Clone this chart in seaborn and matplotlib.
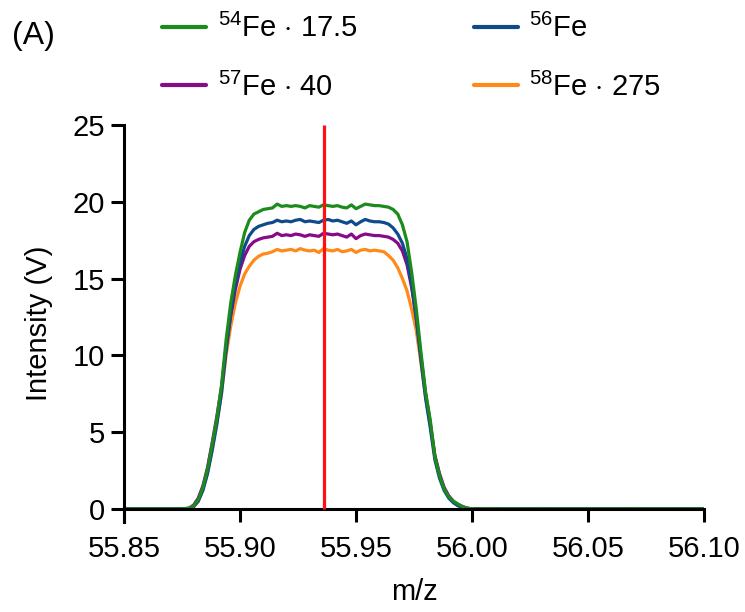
import numpy as np
import pandas as pd
import matplotlib
matplotlib.use("Agg")
import matplotlib.pyplot as plt
from matplotlib.lines import Line2D
import seaborn as sns

sns.set_theme(style="ticks")
plt.rcParams['font.family'] = ['Liberation Sans', 'DejaVu Sans']
plt.rcParams['mathtext.fontset'] = 'custom'
plt.rcParams['mathtext.rm'] = 'Liberation Sans'
plt.rcParams['text.color'] = 'black'
plt.rcParams['axes.labelcolor'] = 'black'

''' m/z sampling points '''
mz = [55.850, 55.860, 55.870, 55.875,
      55.878, 55.880, 55.882, 55.884, 55.886, 55.888, 55.890, 55.892, 55.894, 55.896,
      55.898, 55.900, 55.902, 55.904, 55.906, 55.908, 55.910, 55.912, 55.914, 55.916,
      55.918, 55.920, 55.922, 55.924, 55.926, 55.928, 55.930, 55.932, 55.934, 55.936,
      55.938, 55.940, 55.942, 55.944, 55.946, 55.948, 55.950, 55.952, 55.954, 55.956,
      55.958, 55.960, 55.962, 55.964, 55.966, 55.968, 55.970, 55.972, 55.974, 55.976,
      55.978, 55.980, 55.982, 55.984, 55.986, 55.988, 55.990, 55.992, 55.994, 55.996,
      55.998, 56.000, 56.010, 56.020, 56.030, 56.040, 56.050, 56.060, 56.070, 56.080,
      56.090, 56.100]

''' Intensities (V), scaled '''
fe54 = [0, 0, 0, 0,
        0.05, 0.2, 0.6, 1.4, 2.6, 4.2, 5.9, 8.0, 11.0, 13.4,
        15.2, 16.7, 18.0, 18.8, 19.2, 19.35, 19.5, 19.55, 19.6, 19.85,
        19.7, 19.75, 19.7, 19.75, 19.7, 19.6, 19.75, 19.7, 19.65, 19.8,
        19.75, 19.7, 19.75, 19.65, 19.6, 19.8, 19.55, 19.7, 19.85, 19.8,
        19.75, 19.75, 19.7, 19.65, 19.5, 19.2, 18.5, 17.4, 15.4, 13.0,
        10.2, 7.6, 5.8, 3.4, 2.2, 1.3, 0.8, 0.5, 0.3, 0.15,
        0.05, 0, 0, 0, 0, 0, 0, 0, 0, 0,
        0, 0]
fe56 = [0, 0, 0, 0,
        0.03, 0.15, 0.5, 1.2, 2.3, 3.8, 5.5, 7.5, 10.3, 12.7,
        14.6, 16.0, 17.1, 17.8, 18.2, 18.4, 18.5, 18.6, 18.65, 18.8,
        18.7, 18.75, 18.7, 18.8, 18.85, 18.7, 18.75, 18.7, 18.65, 18.8,
        18.85, 18.75, 18.8, 18.7, 18.6, 18.75, 18.5, 18.7, 18.85, 18.75,
        18.7, 18.7, 18.65, 18.55, 18.3, 17.9, 17.3, 16.3, 14.6, 12.4,
        9.7, 7.2, 5.3, 3.2, 2.0, 1.2, 0.7, 0.4, 0.2, 0.1,
        0.03, 0, 0, 0, 0, 0, 0, 0, 0, 0,
        0, 0]
fe57 = [0, 0, 0, 0,
        0.05, 0.25, 0.7, 1.5, 2.7, 4.3, 6.0, 7.9, 10.5, 12.6,
        14.3, 15.6, 16.5, 17.1, 17.4, 17.55, 17.65, 17.7, 17.75, 17.95,
        17.8, 17.85, 17.8, 17.9, 17.85, 17.75, 17.85, 17.8, 17.75, 17.95,
        17.9, 17.85, 17.9, 17.8, 17.7, 17.9, 17.6, 17.8, 17.9, 17.85,
        17.8, 17.8, 17.75, 17.7, 17.55, 17.3, 16.8, 15.9, 14.4, 12.4,
        9.9, 7.5, 5.6, 3.5, 2.3, 1.4, 0.85, 0.5, 0.3, 0.15,
        0.05, 0, 0, 0, 0, 0, 0, 0, 0, 0,
        0, 0]
fe58 = [0, 0, 0, 0,
        0.03, 0.15, 0.5, 1.3, 2.4, 3.9, 5.6, 7.5, 10.0, 11.9,
        13.4, 14.5, 15.3, 15.8, 16.2, 16.45, 16.6, 16.65, 16.75, 16.9,
        16.8, 16.85, 16.9, 16.8, 16.95, 16.85, 16.8, 16.85, 16.7, 16.95,
        16.85, 16.8, 16.9, 16.75, 16.8, 16.9, 16.7, 16.85, 16.9, 16.8,
        16.85, 16.8, 16.75, 16.5, 16.2, 15.7, 15.0, 14.2, 13.0, 11.6,
        9.5, 7.3, 5.5, 3.4, 2.2, 1.3, 0.8, 0.45, 0.25, 0.1,
        0.05, 0.02, 0.03, 0, 0.03, 0, 0.02, 0, 0.03, 0,
        0.02, 0]

labels = {'54': r'$^{54}$Fe $\cdot$ 17.5', '56': r'$^{56}$Fe',
          '57': r'$^{57}$Fe $\cdot$ 40', '58': r'$^{58}$Fe $\cdot$ 275'}
colors = {'54': '#1d8a1d', '56': '#0f4a8a', '57': '#880a88', '58': '#ff8a1a'}
ref_mz = 55.936

df = pd.concat([
    pd.DataFrame({'mz': mz, 'intensity': fe54, 'isotope': '54'}),
    pd.DataFrame({'mz': mz, 'intensity': fe56, 'isotope': '56'}),
    pd.DataFrame({'mz': mz, 'intensity': fe57, 'isotope': '57'}),
    pd.DataFrame({'mz': mz, 'intensity': fe58, 'isotope': '58'}),
])

fig = plt.figure(figsize=(7.45, 6.12), dpi=100)
ax = fig.add_axes([124 / 745, (612 - 522) / 612, 580 / 745, (522 - 125) / 612])

sns.lineplot(data=df, x='mz', y='intensity', hue='isotope',
             hue_order=['58', '57', '56', '54'], palette=colors,
             linewidth=2.3, estimator=None, sort=False, legend=False, ax=ax)
ax.vlines(ref_mz, 0, 25, color='#ff1010', linewidth=2.3, zorder=5)

ax.set_xlim(55.85, 56.10)
ax.set_ylim(-0.85, 25)
ax.set_xticks([55.85, 55.90, 55.95, 56.00, 56.05, 56.10])
ax.set_xticklabels(['55.85', '55.90', '55.95', '56.00', '56.05', '56.10'])
ax.set_yticks([0, 5, 10, 15, 20, 25])
ax.spines['bottom'].set_position(('data', 0))
ax.spines['top'].set_visible(False)
ax.spines['right'].set_visible(False)
for s in ['left', 'bottom']:
    ax.spines[s].set_linewidth(2.2)
    ax.spines[s].set_color('black')
ax.tick_params(width=2.2, length=9.5, labelsize=21, color='black', labelcolor='black')
ax.tick_params(axis='x', pad=9)
ax.tick_params(axis='y', pad=4)
ax.set_xlabel('m/z', fontsize=21, labelpad=11)
ax.set_ylabel('Intensity (V)', fontsize=21, labelpad=14)

order = ['54', '57', '56', '58']
handles = [Line2D([], [], color=colors[k], linewidth=3) for k in order]
fig.legend(handles, [labels[k] for k in order], ncol=2, frameon=False,
           fontsize=21, loc='upper left', bbox_to_anchor=(136 / 745, 1.02),
           handlelength=1.5, handletextpad=0.4, columnspacing=4.0,
           labelspacing=1.0)
fig.text(12 / 745, 1 - 36 / 612, '(A)', fontsize=23, va='center', ha='left')

plt.savefig('out.png', dpi=100)
plt.close()
